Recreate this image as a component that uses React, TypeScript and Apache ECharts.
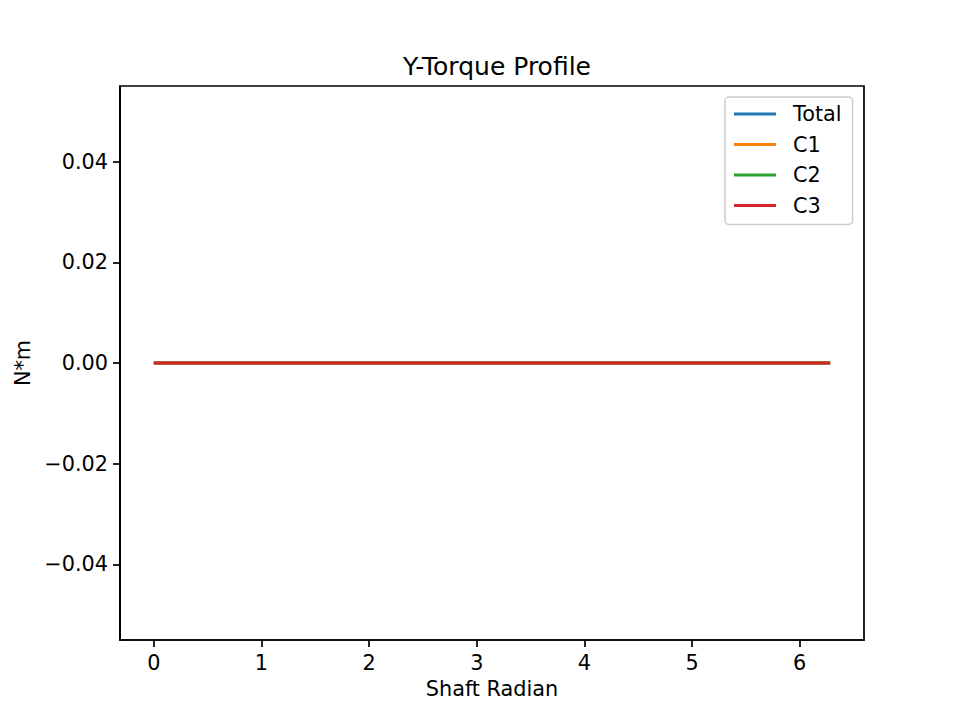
import { useEffect, useRef } from "react";
import * as echarts from "echarts";

// shaft angle samples over one revolution (rad)
const SHAFT_RADIAN = [
  0, 0.628, 1.257, 1.885, 2.513, 3.142, 3.77, 4.398, 5.027, 5.655, 6.283,
];

const TOTAL = [0, 0, 0, 0, 0, 0, 0, 0, 0, 0, 0];
const C1 = [0, 0, 0, 0, 0, 0, 0, 0, 0, 0, 0];
const C2 = [0, 0, 0, 0, 0, 0, 0, 0, 0, 0, 0];
const C3 = [0, 0, 0, 0, 0, 0, 0, 0, 0, 0, 0];

const X_TICKS = [0, 1, 2, 3, 4, 5, 6];
const Y_TICKS = [-0.04, -0.02, 0, 0.02, 0.04];

const SERIES = [
  { name: "Total", values: TOTAL, color: "#1f77b4" },
  { name: "C1", values: C1, color: "#ff7f0e" },
  { name: "C2", values: C2, color: "#2ca02c" },
  { name: "C3", values: C3, color: "#d62728" },
];

const FONT = "DejaVu Sans";

export default function App() {
  const ref = useRef<HTMLDivElement | null>(null);

  useEffect(() => {
    document.body.style.margin = "0";
    const el = ref.current;
    if (!el) {
      return;
    }
    const chart = echarts.init(el, null, { renderer: "svg" });

    const axisCommon = {
      axisLine: { show: true, onZero: false, lineStyle: { color: "#000", width: 1.7 } },
      axisTick: { show: true, length: 7, lineStyle: { color: "#000", width: 1.7 } },
      splitLine: { show: false },
      nameTextStyle: { color: "#000", fontSize: 20.8, fontFamily: FONT },
    };

    chart.setOption({
      animation: false,
      backgroundColor: "#ffffff",
      textStyle: { fontFamily: FONT },
      title: {
        text: "Y-Torque Profile",
        left: 492,
        top: 49,
        textAlign: "center",
        textStyle: { color: "#000", fontSize: 25, fontWeight: "normal", fontFamily: FONT },
      },
      grid: {
        left: 120,
        right: 96,
        top: 86,
        bottom: 80,
        show: true,
        borderColor: "#000",
        borderWidth: 1.7,
        backgroundColor: "transparent",
      },
      legend: {
        orient: "vertical",
        left: 725,
        top: 97,
        padding: [6, 11, 8, 9],
        itemGap: 8.5,
        itemWidth: 42,
        itemHeight: 3,
        icon: "rect",
        borderColor: "#cccccc",
        borderWidth: 1.5,
        borderRadius: 4,
        backgroundColor: "rgba(255,255,255,0.8)",
        textStyle: {
          color: "#000",
          fontSize: 20.8,
          fontFamily: FONT,
          lineHeight: 22,
          padding: [0, 0, 0, 12],
        },
        data: SERIES.map((s) => s.name),
      },
      xAxis: {
        type: "value",
        min: -0.31416,
        max: 6.59734,
        name: "Shaft Radian",
        nameLocation: "middle",
        nameGap: 38,
        ...axisCommon,
        axisTick: { ...axisCommon.axisTick, customValues: X_TICKS },
        axisLabel: {
          color: "#000",
          fontSize: 20.8,
          fontFamily: FONT,
          margin: 12,
          customValues: X_TICKS,
          formatter: (v: number) => String(v),
        },
      },
      yAxis: {
        type: "value",
        min: -0.055,
        max: 0.055,
        name: "N*m",
        nameLocation: "middle",
        nameRotate: 90,
        nameGap: 86,
        ...axisCommon,
        axisTick: { ...axisCommon.axisTick, customValues: Y_TICKS },
        axisLabel: {
          color: "#000",
          fontSize: 20.8,
          fontFamily: FONT,
          margin: 12,
          customValues: Y_TICKS,
          formatter: (v: number) => v.toFixed(2).replace("-", "\u2212"),
        },
      },
      series: SERIES.map((s) => ({
        name: s.name,
        type: "line",
        symbol: "none",
        data: SHAFT_RADIAN.map((x, i) => [x, s.values[i]]),
        itemStyle: { color: s.color },
        lineStyle: { color: s.color, width: 3 },
      })),
    });

    return () => {
      chart.dispose();
    };
  }, []);

  return <div ref={ref} style={{ width: 960, height: 720 }} />;
}
